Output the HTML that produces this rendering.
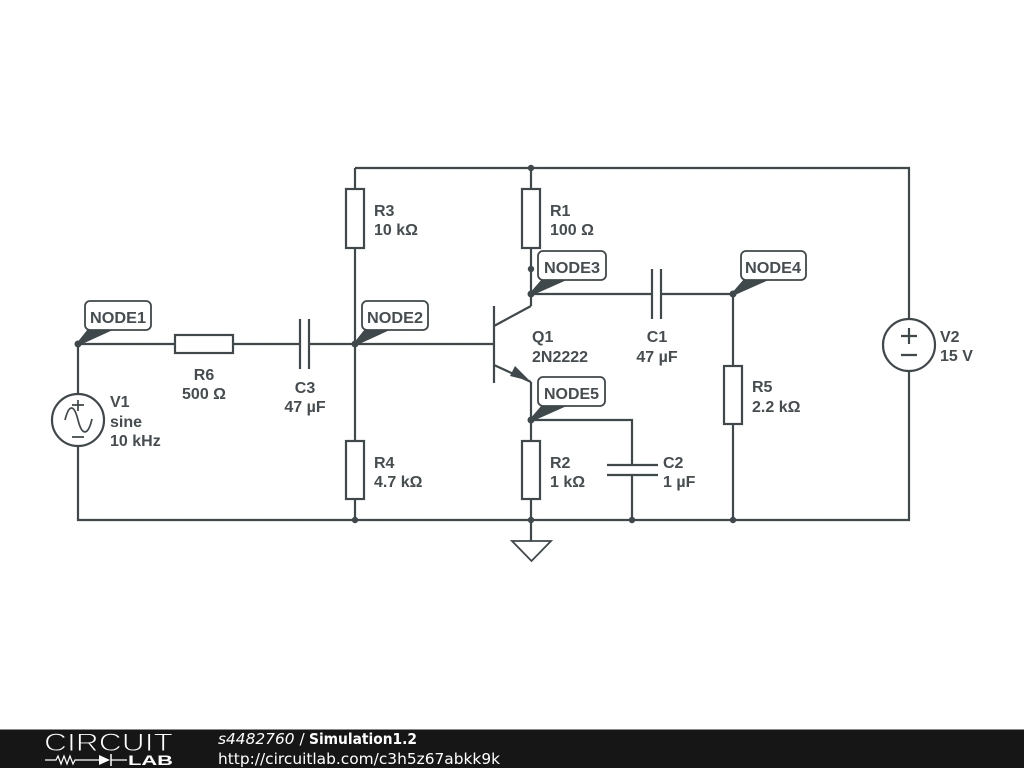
<!DOCTYPE html>
<html><head><meta charset="utf-8"><style>
html,body{margin:0;padding:0;background:#fff;width:1024px;height:768px;overflow:hidden}
svg{position:absolute;left:0;top:0;display:block}
.w{fill:none;stroke:#3f484b;stroke-width:2.2}
.p{fill:#fff;stroke:#3f484b;stroke-width:2.2}
.d{fill:#3f484b}
.t{font-family:"Liberation Sans",sans-serif;font-size:16px;font-weight:700;fill:#454d50}
.n{font-family:"Liberation Sans",sans-serif;font-size:16px;font-weight:700;fill:#454d50}
.f{font-family:"DejaVu Sans",sans-serif;font-size:15.4px;fill:#fff}
</style></head><body>
<svg width="1024" height="768" viewBox="0 0 1024 768" xmlns="http://www.w3.org/2000/svg">
<rect width="1024" height="768" fill="#fff"/>
<path class="w" d="M355 168H909V319M909 371V520H78V446M78 394V344H175M233 344H300M309 344H494M355 168V189M355 248V441M355 499V520M531 168V189M531 248V306M531 294H652M661 294H733V366M733 424V520M531 382V441M531 499V541M531 420H632V465M632 475V520"/>
<rect class="p" x="346" y="189" width="18" height="59"/>
<rect class="p" x="522" y="189" width="18" height="59"/>
<rect class="p" x="346" y="441" width="18" height="58"/>
<rect class="p" x="522" y="441" width="18" height="58"/>
<rect class="p" x="724" y="366" width="18" height="58"/>
<rect class="p" x="175" y="335" width="58" height="18"/>
<path class="w" d="M300 319V369M309 319V369M652 269V319M661 269V319M607 465H658M607 475H658"/>
<circle class="p" cx="78" cy="420" r="26"/>
<path d="M78 400V411M72 405H84M72 437H84M65 420C69 404 74 404 78 420C82 436 88 436 92 419" fill="none" stroke="#3f484b" stroke-width="1.700"/>
<circle class="p" cx="909" cy="345" r="26"/>
<path class="w" d="M901 336H917M909 328V344M901 355H917"/>
<path class="w" d="M494 306V383M494 326L531 306M494 365L531 382"/>
<path class="d" d="M515 366L530 381L510 376Z"/>
<path class="w" style="stroke-width:1.800" d="M512 541H551L531.500 561Z"/>
<g class="d">
<circle cx="78" cy="344" r="3.500"/><circle cx="355" cy="344" r="3.500"/><circle cx="531" cy="168" r="3.200"/><circle cx="531" cy="269" r="3.200"/><circle cx="531" cy="294" r="3.500"/><circle cx="733" cy="294" r="3.500"/><circle cx="531" cy="420" r="3.500"/><circle cx="355" cy="520" r="3.200"/><circle cx="531" cy="520" r="3.200"/><circle cx="632" cy="520" r="3.200"/><circle cx="733" cy="520" r="3.200"/>
<path d="M76 344L88 329H115L80 345Z"/><path d="M353 344L365 329H392L357 345Z"/><path d="M529 294L542 279H569L533 295Z"/><path d="M731 294L744 279H771L735 295Z"/><path d="M529 420L542 405H569L533 421Z"/>
</g>
<g fill="#fff" stroke="#3f484b" stroke-width="1.800">
<rect x="85" y="301" width="66" height="29" rx="5"/>
<rect x="362" y="301" width="66" height="29" rx="5"/>
<rect x="538" y="251" width="68" height="29" rx="5"/>
<rect x="741" y="251" width="65" height="29" rx="5"/>
<rect x="538" y="377" width="67" height="29" rx="5"/>
</g>
<g class="n">
<text x="90" y="323" textLength="56" lengthAdjust="spacingAndGlyphs">NODE1</text>
<text x="367" y="323" textLength="56" lengthAdjust="spacingAndGlyphs">NODE2</text>
<text x="544" y="273" textLength="56" lengthAdjust="spacingAndGlyphs">NODE3</text>
<text x="745" y="273" textLength="56" lengthAdjust="spacingAndGlyphs">NODE4</text>
<text x="544" y="399" textLength="55" lengthAdjust="spacingAndGlyphs">NODE5</text>
</g>
<g class="t">
<text x="374" y="216">R3</text><text x="374" y="235">10 kΩ</text>
<text x="550" y="216">R1</text><text x="550" y="235">100 Ω</text>
<text x="374" y="468">R4</text><text x="374" y="487">4.7 kΩ</text>
<text x="550" y="468">R2</text><text x="550" y="487">1 kΩ</text>
<text x="663" y="468">C2</text><text x="663" y="487">1 µF</text>
<text x="752" y="392">R5</text><text x="752" y="412">2.2 kΩ</text>
<text x="204" y="380" text-anchor="middle">R6</text><text x="204" y="399" text-anchor="middle">500 Ω</text>
<text x="305" y="393" text-anchor="middle">C3</text><text x="305" y="412" text-anchor="middle">47 µF</text>
<text x="657" y="342" text-anchor="middle">C1</text><text x="657" y="362" text-anchor="middle">47 µF</text>
<text x="532" y="342">Q1</text><text x="532" y="362">2N2222</text>
<text x="110" y="407">V1</text><text x="110" y="427">sine</text><text x="110" y="446">10 kHz</text>
<text x="940" y="342">V2</text><text x="940" y="361">15 V</text>
</g>
<rect x="0" y="729" width="1024" height="39" fill="#161616"/>
<rect x="0" y="729" width="1024" height="1" fill="#8a8a8a"/>
<text x="44" y="751" font-family="'Liberation Sans',sans-serif" font-size="25" fill="#fff" stroke="#161616" stroke-width="0.900" textLength="129" lengthAdjust="spacingAndGlyphs">CIRCUIT</text>
<path d="M45 760H56L58 756L61 764L64 756L67 764L70 756L73 764L75 760H100M111 760H127" fill="none" stroke="#fff" stroke-width="1.200"/>
<path d="M99 755L110 760L99 765Z" fill="#fff"/><path d="M111 754V766" stroke="#fff" stroke-width="1.500"/>
<text x="128" y="765" font-family="'Liberation Sans',sans-serif" font-size="14" font-weight="700" fill="#fff" textLength="45" lengthAdjust="spacingAndGlyphs">LAB</text>
<text class="f" x="218" y="744" font-style="italic">s4482760 <tspan font-style="normal">/</tspan></text>
<text class="f" x="309" y="744" font-weight="700" textLength="108" lengthAdjust="spacingAndGlyphs">Simulation1.2</text>
<text class="f" x="218" y="764">http://circuitlab.com/c3h5z67abkk9k</text>
</svg>
</body></html>
